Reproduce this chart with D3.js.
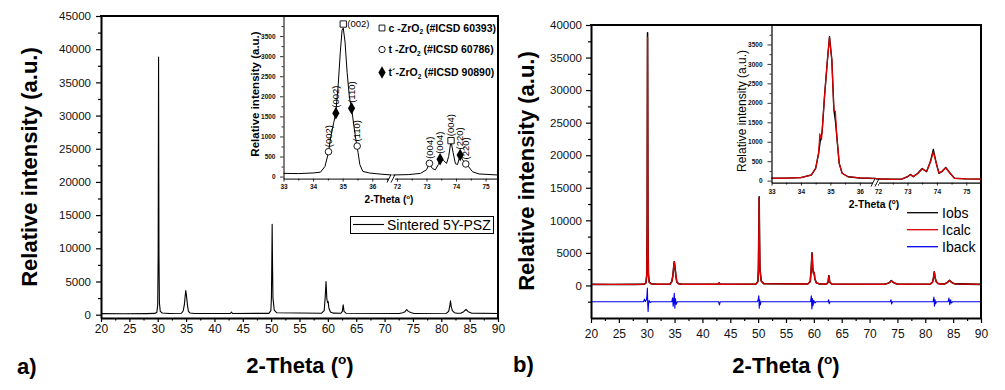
<!DOCTYPE html>
<html><head><meta charset="utf-8">
<script src="https://cdn.jsdelivr.net/npm/d3@7/dist/d3.min.js"></script>
<style>
body{margin:0;background:#fff}
svg{display:block}
text{font-family:"Liberation Sans",Arial,sans-serif}
</style>
</head><body>
<svg id="c" width="1005" height="390"></svg>
<script>
// ---------- DATA ----------
const xTicksMain = [20,25,30,35,40,45,50,55,60,65,70,75,80,85,90];
const xMinorMain = [22.5,27.5,32.5,37.5,42.5,47.5,52.5,57.5,62.5,67.5,72.5,77.5,82.5,87.5];
const yTicksLeft = [0,5000,10000,15000,20000,25000,30000,35000,40000,45000];
const yMinorLeft = [2500,7500,12500,17500,22500,27500,32500,37500,42500];
const yTicksRight = [0,5000,10000,15000,20000,25000,30000,35000,40000];
const yMinorRight = [-2500,2500,7500,12500,17500,22500,27500,32500,37500];
const insetYTicks = [0,500,1000,1500,2000,2500,3000,3500];
const insetYMinor = [250,750,1250,1750,2250,2750,3250,3750];
const insetXTicksA = [33,34,35,36];
const insetXMinorA = [33.5,34.5,35.5,36.5];
const insetXTicksB = [72,73,74,75];
const insetXMinorB = [72.5,73.5,74.5];

// observed pattern (2-theta, counts)
const obsMain = [[20,160],[24,150],[28,160],[29.5,190],[29.85,350],[30.0,1500],[30.08,9000],[30.15,38800],[30.22,9000],[30.3,1800],[30.45,500],[30.8,250],[32,180],[34.2,220],[34.5,600],[34.7,1500],[34.85,2900],[34.95,3650],[35.08,2800],[35.25,1400],[35.4,550],[35.7,250],[36.5,180],[42.8,180],[43.0,380],[43.2,180],[49.6,200],[49.95,600],[50.05,2500],[50.12,8000],[50.18,13600],[50.25,7000],[50.32,2500],[50.42,1700],[50.55,700],[51,280],[58.9,220],[59.35,600],[59.52,2500],[59.68,5000],[59.82,2400],[59.95,1800],[60.05,2000],[60.18,1000],[60.45,400],[61,230],[62.3,220],[62.55,500],[62.7,1500],[62.85,500],[63.2,220],[72.6,180],[73.2,300],[73.6,450],[73.9,750],[74.2,500],[74.6,320],[75.2,180],[80.9,220],[81.3,500],[81.48,1200],[81.62,2100],[81.76,1200],[81.95,600],[82.3,300],[82.8,220],[83.5,240],[83.95,450],[84.35,780],[84.75,450],[85.3,240],[90,170]];
// calculated pattern
const calcMain = [[20,160],[24,150],[28,160],[29.5,190],[29.85,350],[30.0,1500],[30.08,9000],[30.15,38100],[30.22,9000],[30.3,1800],[30.45,500],[30.8,250],[32,180],[34.2,220],[34.5,600],[34.7,1500],[34.85,2900],[34.95,3600],[35.08,2800],[35.25,1400],[35.4,550],[35.7,250],[36.5,180],[42.8,180],[43.0,420],[43.2,180],[49.6,200],[49.95,600],[50.05,2500],[50.12,8000],[50.18,13400],[50.25,7000],[50.32,2500],[50.42,1700],[50.55,700],[51,280],[58.9,220],[59.35,600],[59.52,2500],[59.68,4900],[59.82,2400],[59.95,1800],[60.05,2000],[60.18,1000],[60.45,400],[61,230],[62.3,220],[62.55,500],[62.7,1450],[62.85,500],[63.2,220],[72.6,180],[73.2,300],[73.6,450],[73.9,700],[74.2,500],[74.6,320],[75.2,180],[80.9,220],[81.3,500],[81.48,1200],[81.62,2050],[81.76,1200],[81.95,600],[82.3,300],[82.8,220],[83.5,240],[83.95,450],[84.35,760],[84.75,450],[85.3,240],[90,170]];
// difference / background curve
const diffMain = [[20,-2500],[29.4,-2500],[29.6,-2100],[29.75,-2500],[29.95,-2200],[30.05,-1500],[30.12,-400],[30.18,-2800],[30.25,-4000],[30.32,-3000],[30.42,-2300],[30.6,-2600],[30.9,-2500],[34.5,-2500],[34.65,-1900],[34.75,-3200],[34.85,-2300],[34.95,-1200],[35.05,-3500],[35.15,-2000],[35.3,-2900],[35.5,-2500],[42.9,-2500],[43.05,-3000],[43.2,-2500],[49.9,-2500],[50.05,-2000],[50.12,-1600],[50.2,-3500],[50.28,-2200],[50.38,-3000],[50.5,-2500],[59.4,-2500],[59.55,-1600],[59.65,-3600],[59.75,-2000],[59.85,-3100],[60.0,-2300],[60.2,-2700],[60.4,-2500],[62.55,-2500],[62.65,-2200],[62.75,-2800],[62.9,-2500],[73.7,-2500],[73.85,-2200],[73.95,-2850],[74.1,-2500],[81.4,-2500],[81.55,-1800],[81.65,-3200],[81.75,-2200],[81.85,-2800],[82.0,-2500],[84.1,-2500],[84.25,-1950],[84.4,-2950],[84.55,-2200],[84.7,-2700],[84.9,-2500],[90,-2500]];

// left inset (zoomed observed pattern)
const insetLeftA = [[33,80],[33.5,75],[34,90],[34.25,110],[34.4,250],[34.52,600],[34.6,1000],[34.7,1350],[34.77,1600],[34.85,2300],[34.92,3100],[34.98,3650],[35.02,3700],[35.08,3350],[35.15,2600],[35.23,1950],[35.3,1720],[35.38,1250],[35.46,850],[35.52,600],[35.58,300],[35.68,130],[35.9,90],[36.3,60],[36.65,40]];
const insetLeftB = [[71.85,40],[72.4,50],[72.8,80],[73.0,170],[73.1,320],[73.2,200],[73.3,170],[73.4,300],[73.48,440],[73.58,400],[73.68,330],[73.75,500],[73.83,880],[73.9,600],[73.98,320],[74.05,300],[74.14,540],[74.22,420],[74.33,320],[74.42,250],[74.56,120],[74.78,65],[75.42,40]];
// phase markers: [2theta, intensity, hkl]
const cMarks = [[35.02,3800,"(002)"],[73.83,895,"(004)"]];
const tMarks = [[34.52,620,"(002)"],[35.49,760,"(110)"],[73.1,330,"(004)"],[74.33,315,"(220)"]];
const tpMarks = [[34.77,1577,"(002)"],[35.3,1700,"(110)"],[73.46,430,"(004)"],[74.14,540,"(220)"]];
const phaseNames = [["c -ZrO","2"," (#ICSD 60393)"],["t -ZrO","2"," (#ICSD 60786)"],["t\u00b4-ZrO","2"," (#ICSD 90890)"]];

// right inset
const rInObsA = [[33,60],[33.5,65],[34,77],[34.35,145],[34.5,317],[34.6,700],[34.66,1050],[34.72,1250],[34.8,2158],[34.9,3100],[34.97,3700],[35.05,3100],[35.12,1814],[35.17,1550],[35.22,1130],[35.3,445],[35.4,190],[35.6,100],[36,70],[36.55,55]];
const rInCalcA = [[33,60],[33.5,65],[34,77],[34.35,145],[34.5,317],[34.6,700],[34.64,1200],[34.7,1050],[34.8,2158],[34.9,3100],[34.97,3680],[35.05,3100],[35.12,1800],[35.17,1780],[35.22,1130],[35.3,445],[35.4,190],[35.6,100],[36,70],[36.55,55]];
const rInObsB = [[71.93,45],[72.5,35],[72.8,40],[73.0,100],[73.1,160],[73.2,100],[73.35,190],[73.5,310],[73.65,230],[73.78,490],[73.88,800],[73.98,445],[74.07,190],[74.17,230],[74.3,340],[74.45,190],[74.6,60],[75,45],[75.5,40]];
const rInCalcB = [[71.93,45],[72.5,35],[72.8,40],[73.0,100],[73.1,150],[73.2,110],[73.35,180],[73.5,300],[73.65,240],[73.78,480],[73.88,740],[73.98,445],[74.07,200],[74.17,240],[74.3,330],[74.45,190],[74.6,60],[75,45],[75.5,40]];
const legendRight = [["Iobs","#000"],["Icalc","#e00000"],["Iback","#0000ee"]];

// ---------- DRAW ----------
const svg = d3.select("#c");
const FONT = '"Liberation Sans",Arial,sans-serif';

function styleAxis(g, fs, fw, dw){
  g.select(".domain").attr("stroke","#000").attr("stroke-width",dw);
  g.selectAll(".tick line").attr("stroke","#000").attr("stroke-width",Math.max(1,dw*0.6));
  g.selectAll(".tick text").attr("font-size",fs).attr("font-weight",fw).attr("fill","#111").attr("font-family",FONT);
}
function leftAxis(y, x0, major, minor, o){
  svg.append("g").attr("transform",`translate(${x0},0)`)
    .call(d3.axisLeft(y).tickValues(minor).tickSize(o.minor).tickFormat("").tickSizeOuter(0))
    .call(g=>{g.select(".domain").remove();g.selectAll(".tick line").attr("stroke","#000").attr("stroke-width",o.tw);});
  const g = svg.append("g").attr("transform",`translate(${x0},0)`)
    .call(d3.axisLeft(y).tickValues(major).tickSize(o.major).tickPadding(o.pad).tickSizeOuter(0).tickFormat(d3.format("d")));
  styleAxis(g,o.fs,o.fw,o.dw);
  g.selectAll(".tick line").attr("stroke-width",o.tw);
}
function bottomAxis(x, y0, major, minor, o){
  svg.append("g").attr("transform",`translate(0,${y0})`)
    .call(d3.axisBottom(x).tickValues(minor).tickSize(o.minor).tickFormat("").tickSizeOuter(0))
    .call(g=>{g.select(".domain").remove();g.selectAll(".tick line").attr("stroke","#000").attr("stroke-width",o.tw);});
  const g = svg.append("g").attr("transform",`translate(0,${y0})`)
    .call(d3.axisBottom(x).tickValues(major).tickSize(o.major).tickPadding(o.pad).tickSizeOuter(0).tickFormat(d3.format("d")));
  styleAxis(g,o.fs,o.fw,o.dw);
  g.selectAll(".tick line").attr("stroke-width",o.tw);
}
function thetaLabel(x, y, fs){
  const t = svg.append("text").attr("x",x).attr("y",y).attr("text-anchor","middle")
    .attr("font-size",fs).attr("font-weight","bold").attr("fill","#000");
  t.append("tspan").text("2-Theta (");
  t.append("tspan").attr("font-size",fs*0.62).attr("dy",-fs*0.42).text("o");
  t.append("tspan").attr("dy",fs*0.42).text(")");
}
function yLabel(x, y, fs, fw, txt){
  svg.append("text").attr("transform",`translate(${x},${y}) rotate(-90)`).attr("text-anchor","middle")
    .attr("dominant-baseline","central").attr("font-size",fs).attr("font-weight",fw).attr("fill","#000").text(txt);
}
function curve(data, x, y, color, w){
  svg.append("path").datum(data).attr("fill","none").attr("stroke",color).attr("stroke-width",w)
    .attr("stroke-linejoin","round").attr("d",d3.line().x(d=>x(d[0])).y(d=>y(d[1])));
}
function breakMark(bx, by){
  svg.append("rect").attr("x",bx-3).attr("y",by-1.5).attr("width",6).attr("height",3).attr("fill","#fff");
  [[-4,0],[0,0]].forEach(([dx])=>{
    svg.append("line").attr("x1",bx+dx-1).attr("y1",by+4).attr("x2",bx+dx+3).attr("y2",by-4)
      .attr("stroke","#000").attr("stroke-width",0.9);
  });
}

// ===== Panel a =====
const xa = d3.scaleLinear().domain([20,90]).range([101,498]);
const ya = d3.scaleLinear().domain([-500,45000]).range([318,16]);
curve(obsMain, xa, ya, "#000", 1.1);
leftAxis(ya, 101, yTicksLeft, yMinorLeft, {major:5,minor:3,pad:5,fs:11.5,fw:"normal",dw:2,tw:1.2});
bottomAxis(xa, 318, xTicksMain, xMinorMain, {major:4,minor:2.5,pad:2,fs:12,fw:"normal",dw:2,tw:1.2});
svg.append("line").attr("x1",100).attr("x2",499).attr("y1",16).attr("y2",16).attr("stroke","#000").attr("stroke-width",2);
svg.append("line").attr("x1",498).attr("x2",498).attr("y1",16).attr("y2",319).attr("stroke","#000").attr("stroke-width",2);
yLabel(29, 167, 22, "bold", "Relative intensity (a.u.)");
thetaLabel(300, 373, 22);
svg.append("text").attr("x",17).attr("y",374).attr("font-size",22).attr("font-weight","bold").text("a)");
// legend
svg.append("rect").attr("x",350.5).attr("y",216.5).attr("width",143).attr("height",17).attr("fill","#fff").attr("stroke","#000").attr("stroke-width",1);
svg.append("line").attr("x1",353).attr("x2",384).attr("y1",224.5).attr("y2",224.5).attr("stroke","#000").attr("stroke-width",1.1);
svg.append("text").attr("x",387).attr("y",229.5).attr("font-size",14).text("Sintered 5Y-PSZ");

// ----- inset a -----
const iyA = d3.scaleLinear().domain([-50,4000]).range([178.6,16]);
const ixA1 = d3.scaleLinear().domain([33,36.65]).range([283.5,391.5]);
const ixA2 = d3.scaleLinear().domain([71.85,75.42]).range([392.5,498]);
const ixA = v => v < 50 ? ixA1(v) : ixA2(v);
curve(insetLeftA, ixA1, iyA, "#000", 1);
curve(insetLeftB, ixA2, iyA, "#000", 1);
leftAxis(iyA, 283.5, insetYTicks, insetYMinor, {major:3.5,minor:2,pad:4.5,fs:6.5,fw:"bold",dw:1,tw:0.8});
bottomAxis(ixA1, 178.6, insetXTicksA, insetXMinorA, {major:3,minor:2,pad:2.5,fs:6.5,fw:"bold",dw:1,tw:0.8});
bottomAxis(ixA2, 178.6, insetXTicksB, insetXMinorB, {major:3,minor:2,pad:2.5,fs:6.5,fw:"bold",dw:1,tw:0.8});
breakMark(392, 178.6);
yLabel(255, 94, 11.5, "bold", "Relative intensity (a.u.)");
thetaLabel(389, 203, 10);
// markers
const sq = d3.symbol().type(d3.symbolSquare).size(40);
const dia = d3.symbol().type(d3.symbolDiamond).size(45);
function vLabel(px, py, txt){
  svg.append("text").attr("transform",`translate(${px+3.3},${py}) rotate(-90)`).attr("font-size",9.5).attr("fill","#000").text(txt);
}
cMarks.forEach(([t,v,l],i)=>{
  const px=ixA(t), py=iyA(v);
  svg.append("path").attr("d",sq()).attr("transform",`translate(${px},${py})`).attr("fill","#fff").attr("stroke","#000").attr("stroke-width",0.9);
  if(i===0) svg.append("text").attr("x",px+4).attr("y",py+3).attr("font-size",9.5).text(l);
  else vLabel(px, py-4.5, l);
});
tMarks.forEach(([t,v,l])=>{
  const px=ixA(t), py=iyA(v);
  svg.append("circle").attr("cx",px).attr("cy",py).attr("r",3.3).attr("fill","#fff").attr("stroke","#000").attr("stroke-width",0.9);
  vLabel(px, py-4.5, l);
});
tpMarks.forEach(([t,v,l])=>{
  const px=ixA(t), py=iyA(v);
  svg.append("path").attr("d",dia()).attr("transform",`translate(${px},${py})`).attr("fill","#000");
  vLabel(px, py-5.5, l);
});
// inset legend
const legY = [28, 49.5, 72.5];
phaseNames.forEach((p,i)=>{
  const cy = legY[i], mx = 382;
  if(i===0) svg.append("path").attr("d",d3.symbol().type(d3.symbolSquare).size(34)()).attr("transform",`translate(${mx},${cy})`).attr("fill","#fff").attr("stroke","#000").attr("stroke-width",0.9);
  if(i===1) svg.append("circle").attr("cx",mx).attr("cy",cy).attr("r",3.2).attr("fill","#fff").attr("stroke","#000").attr("stroke-width",0.9);
  if(i===2) svg.append("path").attr("d",dia()).attr("transform",`translate(${mx},${cy})`).attr("fill","#000");
  const t = svg.append("text").attr("x",388.5).attr("y",cy+3.8).attr("font-size",10.5).attr("font-weight","bold");
  t.append("tspan").text(p[0]);
  t.append("tspan").attr("font-size",6.5).attr("dy",2.5).text(p[1]);
  t.append("tspan").attr("dy",-2.5).text(p[2]);
});

// ===== Panel b =====
const xb = d3.scaleLinear().domain([20,90]).range([591,981]);
const yb = d3.scaleLinear().domain([-5000,40000]).range([318,25]);
curve(obsMain, xb, yb, "#000", 1.6);
curve(calcMain, xb, yb, "#e00000", 1.3);
curve(diffMain, xb, yb, "#0000ee", 1.1);
leftAxis(yb, 591, yTicksRight, yMinorRight, {major:5,minor:3,pad:4,fs:11.5,fw:"normal",dw:2,tw:1.2});
bottomAxis(xb, 318, xTicksMain, xMinorMain, {major:5,minor:3,pad:6,fs:12,fw:"normal",dw:2,tw:1.2});
svg.append("line").attr("x1",590).attr("x2",982).attr("y1",25).attr("y2",25).attr("stroke","#000").attr("stroke-width",2);
svg.append("line").attr("x1",981).attr("x2",981).attr("y1",25).attr("y2",319).attr("stroke","#000").attr("stroke-width",2);
yLabel(526, 171, 22, "bold", "Relative intensity (a.u.)");
thetaLabel(786, 373, 22);
svg.append("text").attr("x",513).attr("y",372).attr("font-size",22).attr("font-weight","bold").text("b)");
legendRight.forEach(([n,c],i)=>{
  const ly = 212.7 + i*17;
  svg.append("line").attr("x1",907).attr("x2",938).attr("y1",ly).attr("y2",ly).attr("stroke",c).attr("stroke-width",1.3);
  svg.append("text").attr("x",942).attr("y",ly+5).attr("font-size",14).attr("fill","#000").text(n);
});

// ----- inset b -----
const iyB = d3.scaleLinear().domain([-50,4000]).range([182.6,25]);
const ixB1 = d3.scaleLinear().domain([33,36.55]).range([771.5,876]);
const ixB2 = d3.scaleLinear().domain([71.93,75.5]).range([876,981]);
curve(rInObsA, ixB1, iyB, "#000", 1.4);
curve(rInObsB, ixB2, iyB, "#000", 1.4);
curve(rInCalcA, ixB1, iyB, "#e00000", 1.2);
curve(rInCalcB, ixB2, iyB, "#e00000", 1.2);
leftAxis(iyB, 771.5, insetYTicks, insetYMinor, {major:4,minor:2,pad:5,fs:6.5,fw:"bold",dw:1.2,tw:0.8});
bottomAxis(ixB1, 182.6, insetXTicksA, insetXMinorA, {major:3,minor:2,pad:4,fs:6.5,fw:"bold",dw:1.2,tw:0.8});
bottomAxis(ixB2, 182.6, insetXTicksB, insetXMinorB, {major:3,minor:2,pad:4,fs:6.5,fw:"bold",dw:1.2,tw:0.8});
breakMark(876, 182.6);
yLabel(741.5, 111, 12, "normal", "Relative intensity (a.u.)");
thetaLabel(874, 208, 10.3);
</script>
</body></html>
